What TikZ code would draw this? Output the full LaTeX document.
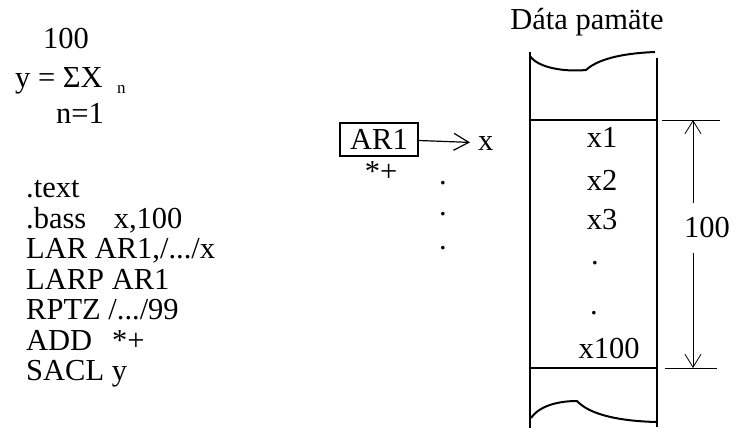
\documentclass[tikz,border=0pt]{standalone}
\usepackage{fontspec}
\setmainfont{Liberation Serif}
\usetikzlibrary{arrows.meta, positioning}

\begin{document}
\begin{tikzpicture}[x=1pt, y=-1pt,
        txt/.style={font=\fontsize{30.5}{31}\selectfont, inner sep=0pt},
        code/.style={txt, anchor=base west},
        mlabel/.style={txt, anchor=base},
        mem/.style={line width=2pt},
        dim/.style={line width=0.8pt},
        barb/.style={-{Straight Barb[length=13pt, width=16pt]}, line width=0.8pt}
    ]
        \useasboundingbox (0,0) rectangle (739,437);

        % Formula
        \node[mlabel] (upper) at (66,48) {100};
        \node[code] (sum) at (15,87) {y = ΣX};
        \node[inner sep=0pt, font=\fontsize{17}{18}\selectfont, anchor=base west] (sub) at (117,93) {n};
        \node[mlabel] (lower) at (80,123) {n=1};

        % Program
        \node[code] (l1) at (26,197) {.text};
        \node[code] (l2) at (26,228) {.bass\hspace{0.9em}x,100};
        \node[code] (l3) at (26,258) {LAR AR1,/.../x};
        \node[code] (l4) at (26,289) {LARP AR1};
        \node[code] (l5) at (26,319) {RPTZ /.../99};
        \node[code] (l6) at (26,350) {ADD\hspace{0.4em} *+};
        \node[code] (l7) at (26,380) {SACL y};

        % Auxiliary register
        \node[txt, draw, line width=2pt, minimum width=78pt, minimum height=33pt] (ar) at (379,139) {AR1};
        \node[txt, anchor=base west, inner xsep=8pt] (xvar) at (470,150) {x};
        \node[mlabel] (inc) at (381,181) {*+};
        \draw[-{Straight Barb[length=15pt, width=17pt]}, line width=1.2pt] (ar) -- (xvar);
        \node[mlabel] (d1) at (443,184) {.};
        \node[mlabel] (d2) at (443,215) {.};
        \node[mlabel] (d3) at (443,249) {.};

        % Data memory
        \node[txt, anchor=base] (title) at (587,29) {Dáta pamäte};
        \coordinate (tl) at (530,52);
        \coordinate (bl) at (530,428);
        \coordinate (tr) at (657,58);
        \coordinate (br) at (657,427);
        \draw[mem] (tl) -- (bl);
        \draw[mem] (tr) -- (br);
        \draw[mem] (530,56) .. controls (538,68) and (565,72) .. (586,70) .. controls (600,57) and (630,53) .. (655,52);
        \draw[mem] (531,418) .. controls (540,405) and (560,401) .. (577,401) .. controls (590,415) and (620,421) .. (656,422);
        \draw[mem] (530,120) -- (657,120);
        \draw[mem] (530,368) -- (657,368);

        \node[mlabel] (m1) at (602,147) {x1};
        \node[mlabel] (m2) at (602,190) {x2};
        \node[mlabel] (m3) at (602,229) {x3};
        \node[mlabel] (m4) at (595,264) {.};
        \node[mlabel] (m5) at (594,314) {.};
        \node[mlabel] (m100) at (609,358) {x100};

        % Dimension
        \coordinate (dimtop) at (693,120);
        \coordinate (dimbot) at (693,368);
        \draw[dim] (662,120) -- (720,120);
        \draw[dim] (665,368) -- (717,368);
        \node[txt, inner ysep=15pt] (count) at (707,228) {100};
        \draw[barb] (count.north -| dimtop) -- (dimtop);
        \draw[barb] (count.south -| dimbot) -- (dimbot);
    \end{tikzpicture}
\end{document}
